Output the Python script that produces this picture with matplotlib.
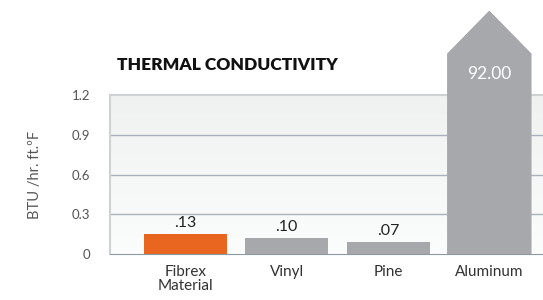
import numpy as np
import matplotlib.pyplot as plt
from matplotlib.patches import Polygon

categories = ['Fibrex\nMaterial', 'Vinyl', 'Pine', 'Aluminum']
bar_heights = [0.15, 0.12, 0.09]          # drawn heights of the first three bars
value_labels = ['.13', '.10', '.07', '92.00']
yticks = [0, 0.3, 0.6, 0.9, 1.2]
ytick_labels = ['0', '0.3', '0.6', '0.9', '1.2']

orange = '#e8661f'
grey = '#a7a8ab'
grid_c = '#a9b3bb'

fig = plt.figure(figsize=(5.43, 3.0), dpi=100)
ax = fig.add_axes([110/543, 46/300, 433/543, 159/300])

x = np.arange(len(categories))
w = 0.82
ax.set_xlim(-0.745, 3.53)
ax.set_ylim(0, 1.2)

# soft grey gradient behind the plot
grad = np.linspace(0.94, 0.985, 100).reshape(-1, 1)
ax.imshow(np.dstack([grad, grad + 0.005, grad + 0.005]), extent=[0, 1, 0, 1],
          transform=ax.transAxes, aspect='auto', zorder=0)

for yv in yticks[1:4]:
    ax.axhline(yv, color=grid_c, lw=1, zorder=1)

colors = [orange, grey, grey]
ax.bar(x[:3], bar_heights, width=w, color=colors, zorder=2)
for xi, h, lab in zip(x[:3], bar_heights, value_labels[:3]):
    ax.text(xi, h + 0.03, lab, ha='center', va='bottom', fontsize=11.5,
            color='#222222', family='Lato')

# aluminum bar runs off the scale and ends in an arrow
xa = x[3]
shoulder, tip = 1.51, 1.83
poly = Polygon([(xa - w/2, 0), (xa + w/2, 0), (xa + w/2, shoulder), (xa, tip),
                (xa - w/2, shoulder)], closed=True, color=grey, clip_on=False,
               zorder=3)
ax.add_patch(poly)
ax.text(xa, 1.36, value_labels[3], ha='center', va='center', fontsize=12.5,
        color='white', family='Lato', zorder=4)

ax.spines['right'].set_visible(False)
ax.spines['top'].set_color('#cfd1d2')
ax.spines['left'].set_color('#cfd1d2')
ax.spines['top'].set_linewidth(1.5)
ax.spines['left'].set_linewidth(1.5)
ax.spines['bottom'].set_color('#8d99a2')
ax.spines['bottom'].set_zorder(5)

ax.set_yticks(yticks)
ax.set_yticklabels(ytick_labels, fontsize=9.5, color='#555555', family='Lato')
ax.tick_params(axis='y', length=0, pad=14)
ax.set_xticks(x)
ax.set_xticklabels(categories, fontsize=11, color='#333333', family='Lato',
                   linespacing=0.95)
ax.tick_params(axis='x', length=0, pad=8)
ax.set_ylabel('BTU /hr. ft.ºF', fontsize=10.5, color='#555555', family='Lato',
              labelpad=22)

fig.text(117/543, 1 - 65/300, 'THERMAL CONDUCTIVITY', fontsize=12.5,
         fontweight='heavy', family='Lato', color='#111111', va='center')

fig.savefig('out.png', dpi=100, facecolor='white')
